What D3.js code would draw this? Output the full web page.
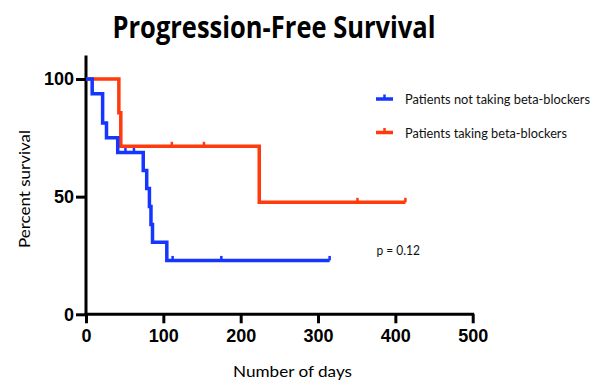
<!DOCTYPE html>
<html>
<head>
<meta charset="utf-8">
<script src="https://cdn.jsdelivr.net/npm/d3@7"></script>
<style>
  html, body { margin: 0; padding: 0; background: #fff; }
  svg { display: block; }
</style>
</head>
<body>
<svg id="chart" width="607" height="383"></svg>
<script>
// Kaplan-Meier step curves for progression-free survival (percent)
const notTakingDays = [0, 8, 21.5, 26.5, 41, 74, 78.5, 82, 84, 86, 104.5, 315];
const notTakingSurv = [100, 93.75, 81.25, 75, 68.75, 61.1, 53.5, 45.8, 38.2, 30.6, 22.9, 22.9];
const notTakingCensored = [51, 62, 112, 175, 315];

const takingDays = [0, 42.5, 45, 224, 413];
const takingSurv = [100, 85.7, 71.4, 47.6, 47.6];
const takingCensored = [111, 152.5, 351, 413];

const seriesNames = ["Patients not taking beta-blockers", "Patients taking beta-blockers"];
const xTicks = [0, 100, 200, 300, 400, 500];
const yTicks = [0, 50, 100];
const pValueText = "p = 0.12";

const BLUE = "#1436ff";
const RED = "#ff3a0c";

const svg = d3.select("#chart");

const x = d3.scaleLinear().domain([0, 500]).range([86, 472.7]);
const y = d3.scaleLinear().domain([0, 100]).range([314.3, 79]);

// title
svg.append("text")
  .attr("x", 274).attr("y", 37.5)
  .attr("text-anchor", "middle")
  .attr("font-family", "'Open Sans', sans-serif")
  .attr("font-weight", "bold")
  .attr("font-size", 30)
  .attr("textLength", 323)
  .attr("lengthAdjust", "spacingAndGlyphs")
  .text("Progression-Free Survival");

// axes
const tickFont = "'Liberation Sans', Arial, sans-serif";
const yAxis = d3.axisLeft(y).tickValues(yTicks).tickSize(10).tickPadding(2);
const gy = svg.append("g").attr("transform", `translate(${x(0)},0)`).call(yAxis);
const xAxis = d3.axisBottom(x).tickValues(xTicks).tickSize(9).tickPadding(6);
const gx = svg.append("g").attr("transform", `translate(0,${y(0)})`).call(xAxis);

[gx, gy].forEach(g => {
  g.select(".domain").remove();
  g.selectAll(".tick line").attr("stroke", "#000").attr("stroke-width", 3);
  g.selectAll(".tick text")
    .attr("fill", "#000")
    .attr("font-family", tickFont)
    .attr("font-weight", "bold")
    .attr("font-size", 18);
});

// axis lines (y axis runs a little above the 100 tick)
svg.append("line")
  .attr("x1", x(0)).attr("x2", x(0))
  .attr("y1", y(0) + 1.5).attr("y2", y(110))
  .attr("stroke", "#000").attr("stroke-width", 3);
svg.append("line")
  .attr("x1", x(0) - 1.5).attr("x2", x(500) + 1.5)
  .attr("y1", y(0)).attr("y2", y(0))
  .attr("stroke", "#000").attr("stroke-width", 3);

// axis titles
const labelFont = "Lato, 'Open Sans', sans-serif";
svg.append("text")
  .attr("x", 292.5).attr("y", 376.5)
  .attr("text-anchor", "middle")
  .attr("font-family", labelFont)
  .attr("font-size", 16)
  .attr("textLength", 119)
  .attr("lengthAdjust", "spacingAndGlyphs")
  .text("Number of days");
svg.append("text")
  .attr("transform", "translate(30,189) rotate(-90)")
  .attr("text-anchor", "middle")
  .attr("font-family", labelFont)
  .attr("font-size", 16)
  .attr("textLength", 118)
  .attr("lengthAdjust", "spacingAndGlyphs")
  .text("Percent survival");

// survival curves
const stepLine = d3.line()
  .x(d => x(d[0]))
  .y(d => y(d[1]))
  .curve(d3.curveStepAfter);

function survivalAt(days, surv, t) {
  const i = d3.bisectRight(days, t) - 1;
  return surv[Math.max(0, i)];
}

function drawSeries(days, surv, censored, color) {
  const pts = days.map((d, i) => [d, surv[i]]);
  svg.append("path")
    .datum(pts)
    .attr("d", stepLine)
    .attr("fill", "none")
    .attr("stroke", color)
    .attr("stroke-width", 3.5)
    .attr("stroke-linejoin", "miter");
  svg.append("g").selectAll("line")
    .data(censored)
    .join("line")
    .attr("x1", d => x(d)).attr("x2", d => x(d))
    .attr("y1", d => y(survivalAt(days, surv, d)))
    .attr("y2", d => y(survivalAt(days, surv, d)) - 4.5)
    .attr("stroke", color)
    .attr("stroke-width", 2.5);
}

drawSeries(takingDays, takingSurv, takingCensored, RED);
drawSeries(notTakingDays, notTakingSurv, notTakingCensored, BLUE);

// legend
const legendFont = "Lato, 'Open Sans', sans-serif";
const legendRows = [
  { name: seriesNames[0], color: BLUE, y: 99, width: 185 },
  { name: seriesNames[1], color: RED, y: 132.5, width: 162 }
];
legendRows.forEach(r => {
  svg.append("line")
    .attr("x1", 376).attr("x2", 393)
    .attr("y1", r.y).attr("y2", r.y)
    .attr("stroke", r.color).attr("stroke-width", 3.5);
  svg.append("line")
    .attr("x1", 384.5).attr("x2", 384.5)
    .attr("y1", r.y).attr("y2", r.y - 4.5)
    .attr("stroke", r.color).attr("stroke-width", 2.5);
  svg.append("text")
    .attr("x", 405).attr("y", r.y + 5)
    .attr("font-family", legendFont)
    .attr("font-size", 13.5)
    .attr("fill", "#111")
    .attr("textLength", r.width)
    .attr("lengthAdjust", "spacingAndGlyphs")
    .text(r.name);
});

// p-value annotation
svg.append("text")
  .attr("x", 376.5).attr("y", 255)
  .attr("font-family", legendFont)
  .attr("font-size", 13.5)
  .attr("fill", "#111")
  .attr("textLength", 43.5)
  .attr("lengthAdjust", "spacingAndGlyphs")
  .text(pValueText);
</script>
</body>
</html>
